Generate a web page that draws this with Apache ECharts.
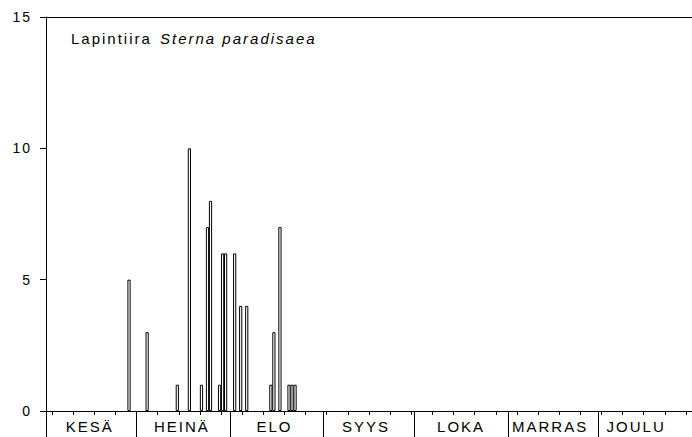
<!DOCTYPE html>
<html>
	<head>
		<meta charset="utf-8">
		<title></title>
		<script src="https://cdn.jsdelivr.net/npm/echarts@6/dist/echarts.min.js"></script>
		<style>
			html, body { margin: 0; padding: 0; background: #fff; }
			#main text { letter-spacing: 2px; }
		</style>
	</head>
	<body>
		<div id="main" style="width: 692px;height:437px;"></div>
		<script>
			// havaintopäivät (kk-pv) ja yksilömäärät
			var dates = ['6-28', '7-4', '7-14', '7-18', '7-22', '7-24', '7-25', '7-28', '7-29', '7-30',
				'8-2', '8-4', '8-6', '8-14', '8-15', '8-17', '8-20', '8-21', '8-22'];
			var counts = [5, 3, 1, 10, 1, 7, 8, 1, 6, 6, 6, 4, 4, 1, 3, 7, 1, 1, 1];

			var months = ['KESÄ', 'HEINÄ', 'ELO', 'SYYS', 'LOKA', 'MARRAS', 'JOULU'];
			var monthDays = [30, 31, 31, 30, 31, 30, 31];
			// kuukauden nimen paikka (päiviä kuun alusta)
			var labelOffsets = [14.5, 15, 14.7, 14, 15.5, 14, 12.5];
			var yTicks = [0, 5, 10, 15];

			var fontName = 'Liberation Sans, Arial, sans-serif';

			// päivä 0 = 1.6.
			function dayIndex(s) {
				var p = s.split('-');
				return (Date.UTC(2001, +p[0] - 1, +p[1]) - Date.UTC(2001, 5, 1)) / 86400000;
			}

			var monthStarts = [0];
			var labelDays = [];
			for (var i = 0; i < monthDays.length; i++) {
				labelDays.push(monthStarts[i] + labelOffsets[i]);
				monthStarts.push(monthStarts[i] + monthDays[i]);
			}
			var totalDays = monthStarts[monthStarts.length - 1];

			var weekTicks = [];
			for (var d = 2; d < totalDays; d += 7) weekTicks.push(d);

			var barData = dates.map(function(s, i) {
				return [dayIndex(s) + 0.5, counts[i]];
			});

			var myChart = echarts.init(document.getElementById('main'), null, { renderer: 'svg' });

			var option = {
				backgroundColor: '#fff',
				animation: false,
				textStyle: { fontFamily: fontName },
				graphic: [{
					type: 'text',
					left: 71,
					top: 31,
					style: {
						text: 'Lapintiira',
						fontSize: 15,
						fontFamily: fontName,
						fill: '#000'
					}
				}, {
					type: 'text',
					left: 160,
					top: 31,
					style: {
						text: 'Sterna paradisaea',
						fontSize: 15,
						fontStyle: 'italic',
						fontFamily: fontName,
						fill: '#000'
					}
				}],
				grid: {
					left: 46,
					right: -6,
					top: 17,
					bottom: 26
				},
				xAxis: [{
					type: 'value',
					position: 'bottom',
					min: 0,
					max: totalDays,
					axisLine: { lineStyle: { color: '#000', width: 1 } },
					axisTick: {
						customValues: weekTicks,
						length: 4,
						lineStyle: { color: '#000' }
					},
					axisLabel: { show: false },
					splitLine: { show: false }
				}, {
					type: 'value',
					position: 'bottom',
					min: 0,
					max: totalDays,
					axisLine: { show: false },
					axisTick: {
						customValues: monthStarts,
						length: 26,
						lineStyle: { color: '#000' }
					},
					axisLabel: {
						customValues: labelDays,
						formatter: function(v) {
							return months[labelDays.indexOf(v)];
						},
						margin: 8,
						fontSize: 15,
						color: '#000',
						fontFamily: fontName
					},
					splitLine: { show: false }
				}, {
					type: 'value',
					position: 'top',
					min: 0,
					max: totalDays,
					axisLine: { lineStyle: { color: '#000', width: 1 } },
					axisTick: { show: false },
					axisLabel: { show: false },
					splitLine: { show: false }
				}],
				yAxis: {
					type: 'value',
					min: yTicks[0],
					max: yTicks[yTicks.length - 1],
					interval: 5,
					axisLine: { show: true, lineStyle: { color: '#000', width: 1 } },
					axisTick: { show: true, length: 6, lineStyle: { color: '#000' } },
					axisLabel: {
						margin: 14,
						fontSize: 14,
						color: '#000',
						fontFamily: fontName
					},
					splitLine: { show: false }
				},
				series: [{
					type: 'bar',
					xAxisIndex: 0,
					barWidth: 3.2,
					itemStyle: {
						color: '#fff',
						borderColor: '#000',
						borderWidth: 1
					},
					data: barData
				}]
			};

			myChart.setOption(option);
		</script>
	</body>
</html>
